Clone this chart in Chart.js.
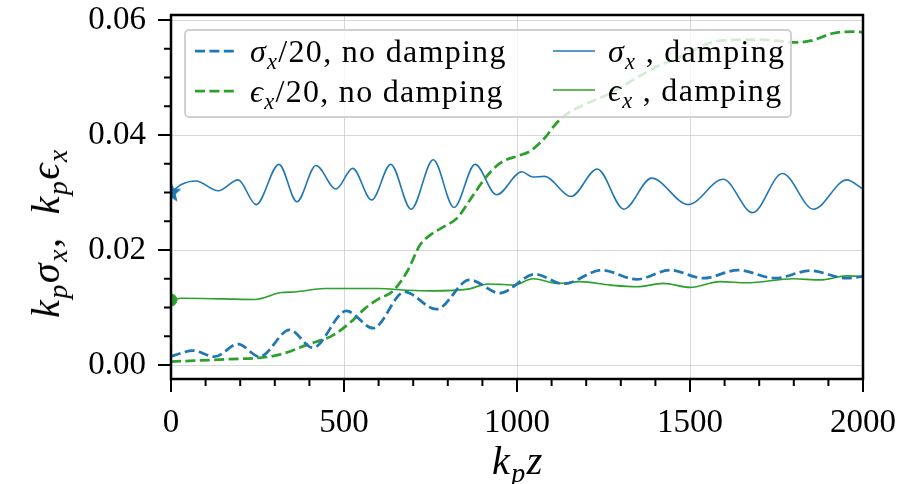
<!DOCTYPE html>
<html>
<head>
<meta charset="utf-8">
<script src="https://cdn.jsdelivr.net/npm/chart.js@4.4.1/dist/chart.umd.min.js"></script>
<style>
  html, body { margin: 0; padding: 0; background: #fff; }
  #wrap { position: relative; width: 897px; height: 484px; font-family: 'Liberation Serif', 'DejaVu Serif', serif; color: #000; }
  #chart { position: absolute; left: 0; top: 0; }
  .lbl { position: absolute; white-space: nowrap; line-height: 1; transform: translateY(-50%); }
  .lbl sub { font-size: 0.7em; vertical-align: -0.3em; line-height: 0; }
  .leg { font-size: 32px; letter-spacing: 1.3px; }
  .ax { font-size: 40px; letter-spacing: 1.5px; }
  #legendBox { position: absolute; left: 184px; top: 29px; width: 604px; height: 85px;
    border: 2px solid rgba(204,204,204,0.9); border-radius: 5px; background: rgba(255,255,255,0.8); }
  svg.h { position: absolute; overflow: visible; }
</style>
</head>
<body>
<div id="wrap">
  <canvas id="chart" width="897" height="484"></canvas>
  <div id="legendBox"></div>
  <svg class="h" style="left:195px;top:51px" width="42" height="1"><line x1="0" y1="0" x2="42" y2="0" stroke="#1f77b4" stroke-width="2.75" stroke-dasharray="10 4.4"/></svg>
  <svg class="h" style="left:195px;top:91px" width="42" height="1"><line x1="0" y1="0" x2="42" y2="0" stroke="#2ca02c" stroke-width="2.75" stroke-dasharray="10 4.4"/></svg>
  <svg class="h" style="left:553px;top:51px" width="42" height="1"><line x1="0" y1="0" x2="42" y2="0" stroke="#1f77b4" stroke-width="1.6"/></svg>
  <svg class="h" style="left:553px;top:90px" width="42" height="1"><line x1="0" y1="0" x2="42" y2="0" stroke="#2ca02c" stroke-width="1.6"/></svg>
  <div class="lbl leg" style="left:250px;top:51px"><i>σ</i><sub><i>x</i></sub>/20, no damping</div>
  <div class="lbl leg" style="left:250px;top:91px"><i>ϵ</i><sub><i>x</i></sub>/20, no damping</div>
  <div class="lbl leg" style="left:608px;top:51px"><i>σ</i><sub><i>x</i></sub> , damping</div>
  <div class="lbl leg" style="left:608px;top:90px"><i>ϵ</i><sub><i>x</i></sub> , damping</div>
  <div class="lbl ax" id="xTitle" style="left:518px;top:461px;transform:translate(-50%,-50%)"><i>k</i><sub><i>p</i></sub><i>z</i></div>
  <div class="lbl ax" id="yTitle" style="left:46px;top:233px;transform:translate(-50%,-50%) rotate(-90deg)"><i>k</i><sub><i>p</i></sub><i>σ</i><sub><i>x</i></sub>,<span style="display:inline-block;width:22px"></span><i>k</i><sub><i>p</i></sub><i>ϵ</i><sub><i>x</i></sub></div>
</div>
<script>
// k_p z positions and values
const zSigNoDamp = [0, 64, 126, 194, 256, 343, 410, 507, 584, 675, 767, 863, 950, 1052, 1134, 1245, 1346, 1442, 1538, 1640, 1746, 1847, 1953, 2000];
const sigNoDamp  = [0.0015, 0.0025, 0.00145, 0.00365, 0.00145, 0.0061, 0.0030, 0.0094, 0.0064, 0.0127, 0.0097, 0.0148, 0.0125,
                    0.0158, 0.0141, 0.0165, 0.0149, 0.0165, 0.0151, 0.0165, 0.0151, 0.0164, 0.0151, 0.0154];

const zEpsNoDamp = [0, 160, 285, 325, 392, 469, 520, 560, 600, 640, 683, 720, 749, 790, 826, 864, 908, 951, 1009, 1038, 1066,
                    1086, 1105, 1124, 1153, 1202, 1268, 1336, 1404, 1462, 1510, 1567, 1620, 1683, 1750, 1800, 1850, 1914, 1982, 2000];
const epsNoDamp  = [0.0006, 0.0010, 0.00145, 0.0020, 0.0035, 0.0052, 0.0075, 0.0098, 0.0115, 0.0128, 0.0163, 0.0209, 0.0226,
                    0.0241, 0.0255, 0.0287, 0.0325, 0.0351, 0.0365, 0.0372, 0.0386, 0.0399, 0.0414, 0.0427, 0.0440, 0.0455,
                    0.0472, 0.0496, 0.0519, 0.0533, 0.0548, 0.0562, 0.0565, 0.0566, 0.0564, 0.0561, 0.0564, 0.0577, 0.0580, 0.0578];

const zSigDamp = [0, 30, 72, 136, 194, 246, 312, 364, 419, 477, 525, 580, 635, 694, 758, 818, 879, 941, 1014, 1045, 1080,
                  1156, 1232, 1309, 1389, 1495, 1596, 1681, 1767, 1857, 1953, 2000];
const sigDamp  = [0.0300, 0.0314, 0.0320, 0.0303, 0.0322, 0.0279, 0.0349, 0.0284, 0.0347, 0.0306, 0.0342, 0.0287, 0.0349,
                  0.0271, 0.0357, 0.0274, 0.0349, 0.0296, 0.0336, 0.0327, 0.0328, 0.0293, 0.0341, 0.0271, 0.0325, 0.0279,
                  0.0323, 0.0265, 0.0333, 0.0271, 0.0322, 0.0306];

const zEpsDamp = [0, 30, 150, 242, 319, 357, 444, 598, 685, 752, 858, 916, 960, 989, 1047, 1115, 1182, 1269, 1346, 1423,
                  1500, 1587, 1664, 1799, 1876, 1953, 2000];
const epsDamp  = [0.0113, 0.0116, 0.0115, 0.0114, 0.0126, 0.0127, 0.0133, 0.0133, 0.0130, 0.0129, 0.0132, 0.0141, 0.0140,
                  0.0139, 0.0150, 0.0142, 0.0145, 0.0139, 0.0136, 0.0142, 0.0135, 0.0145, 0.0143, 0.0150, 0.0148, 0.0155, 0.0154];

// initial values marked at k_p z = 0
const sigStart = 0.0300;
const epsStart = 0.0113;

const BLUE = '#1f77b4', GREEN = '#2ca02c';
const pts = (zs, vs) => zs.map((z, i) => ({ x: z, y: vs[i] }));

// filled star marker (matplotlib '*')
function starMarker(r, color) {
  const c = document.createElement('canvas');
  c.width = c.height = 2 * r + 2;
  const g = c.getContext('2d');
  g.translate(r + 1, r + 1);
  g.beginPath();
  for (let i = 0; i < 10; i++) {
    const rad = i % 2 ? r * 0.45 : r;
    const a = -Math.PI / 2 + i * Math.PI / 5;
    g.lineTo(rad * Math.cos(a), rad * Math.sin(a));
  }
  g.closePath();
  g.fillStyle = color;
  g.fill();
  return c;
}

// spines + major/minor tick marks
const frameTicks = {
  id: 'frameTicks',
  afterDatasetsDraw(chart) {
    const { ctx, chartArea: a, scales: { x, y } } = chart;
    ctx.save();
    ctx.strokeStyle = '#000';
    ctx.lineWidth = 2;
    ctx.beginPath();
    for (let v = 0; v <= 2000; v += 100) {
      const px = x.getPixelForValue(v), len = v % 500 === 0 ? 13 : 7;
      ctx.moveTo(px, a.bottom); ctx.lineTo(px, a.bottom + len);
    }
    for (let i = 0; i <= 12; i++) {
      const py = y.getPixelForValue(i * 0.005), len = i % 4 === 0 ? 13 : 7;
      ctx.moveTo(a.left, py); ctx.lineTo(a.left - len, py);
    }
    ctx.stroke();
    ctx.lineWidth = 2.5;
    ctx.strokeRect(a.left, a.top, a.right - a.left, a.bottom - a.top);
    ctx.restore();
  }
};

const dashed = { borderWidth: 2.75, borderDash: [10, 4.4], pointRadius: 0, fill: false, cubicInterpolationMode: 'monotone' };
const solid  = { borderWidth: 1.6, pointRadius: 0, fill: false, cubicInterpolationMode: 'monotone' };
const tickFont = { family: "'Liberation Serif', serif", size: 33 };

new Chart(document.getElementById('chart'), {
  type: 'line',
  data: {
    datasets: [
      { label: 'sigma start', data: [{ x: 0, y: sigStart }], showLine: false, pointStyle: starMarker(11, BLUE),
        pointRadius: 11, clip: 0 },
      { label: 'eps start', data: [{ x: 0, y: epsStart }], showLine: false, pointStyle: 'circle', pointRadius: 6,
        backgroundColor: GREEN, borderColor: GREEN, clip: 0 },
      Object.assign({ label: 'sigma_x/20, no damping', data: pts(zSigNoDamp, sigNoDamp), borderColor: BLUE }, dashed),
      Object.assign({ label: 'eps_x/20, no damping', data: pts(zEpsNoDamp, epsNoDamp), borderColor: GREEN }, dashed),
      Object.assign({ label: 'sigma_x, damping', data: pts(zSigDamp, sigDamp), borderColor: BLUE }, solid),
      Object.assign({ label: 'eps_x, damping', data: pts(zEpsDamp, epsDamp), borderColor: GREEN }, solid)
    ]
  },
  options: {
    responsive: false,
    animation: false,
    devicePixelRatio: 1,
    layout: { padding: { left: 0, right: 34, top: 15, bottom: 0 } },
    plugins: { legend: { display: false }, tooltip: { enabled: false } },
    scales: {
      x: {
        type: 'linear', min: 0, max: 2000,
        border: { display: false },
        grid: { color: 'rgba(176,176,176,0.5)', lineWidth: 1, drawTicks: false },
        ticks: { stepSize: 500, color: '#000', font: tickFont, padding: 25, maxRotation: 0, includeBounds: false,
                 callback: v => String(v) },
        afterFit: s => { s.height = 105; s.paddingLeft = s.paddingRight = 0; }
      },
      y: {
        min: -0.00243, max: 0.06087,
        border: { display: false },
        grid: { color: 'rgba(176,176,176,0.5)', lineWidth: 1, drawTicks: false },
        ticks: { stepSize: 0.02, color: '#000', font: tickFont, padding: 25, includeBounds: false,
                 callback: v => v.toFixed(2) },
        afterFit: s => { s.width = 171; s.paddingTop = s.paddingBottom = 0; }
      }
    }
  },
  plugins: [frameTicks]
});
</script>
</body>
</html>
